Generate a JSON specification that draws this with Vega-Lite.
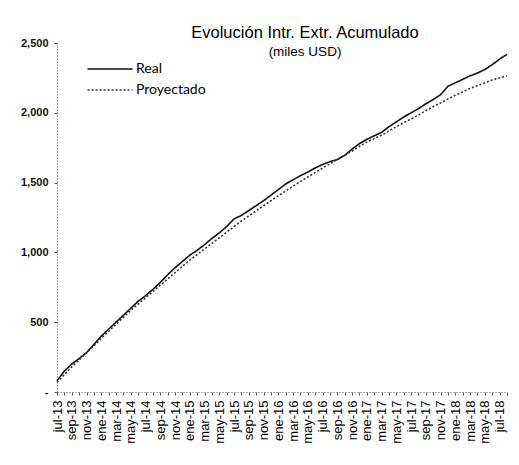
{
  "$schema": "https://vega.github.io/schema/vega-lite/v6.json",
  "width": 450,
  "height": 349,
  "autosize": {"type": "none"},
  "padding": {"left": 57, "top": 43, "right": 12, "bottom": 73},
  "background": "white",
  "config": {"view": {"stroke": null}, "font": "Liberation Sans"},
  "title": {
    "text": "Evolución Intr. Extr. Acumulado",
    "subtitle": "(miles USD)",
    "anchor": "middle",
    "dx": 23,
    "offset": -21,
    "fontSize": 16.5,
    "fontWeight": "normal",
    "font": "Liberation Sans",
    "color": "#000",
    "subtitleFontSize": 13.5,
    "subtitleFont": "Liberation Sans",
    "subtitleColor": "#000",
    "subtitlePadding": 3
  },
  "data": {
    "values": [
      {"mes": "jul-13", "Real": 80, "Proyectado": 70},
      {"mes": "ago-13", "Real": 150, "Proyectado": 125},
      {"mes": "sep-13", "Real": 200, "Proyectado": 180},
      {"mes": "oct-13", "Real": 240, "Proyectado": 230},
      {"mes": "nov-13", "Real": 282, "Proyectado": 280},
      {"mes": "dic-13", "Real": 340, "Proyectado": 330},
      {"mes": "ene-14", "Real": 400, "Proyectado": 385},
      {"mes": "feb-14", "Real": 450, "Proyectado": 435},
      {"mes": "mar-14", "Real": 500, "Proyectado": 485},
      {"mes": "abr-14", "Real": 550, "Proyectado": 535},
      {"mes": "may-14", "Real": 600, "Proyectado": 585},
      {"mes": "jun-14", "Real": 650, "Proyectado": 630},
      {"mes": "jul-14", "Real": 690, "Proyectado": 675},
      {"mes": "ago-14", "Real": 735, "Proyectado": 720},
      {"mes": "sep-14", "Real": 785, "Proyectado": 765},
      {"mes": "oct-14", "Real": 840, "Proyectado": 810},
      {"mes": "nov-14", "Real": 890, "Proyectado": 855},
      {"mes": "dic-14", "Real": 935, "Proyectado": 900},
      {"mes": "ene-15", "Real": 980, "Proyectado": 945},
      {"mes": "feb-15", "Real": 1015, "Proyectado": 985},
      {"mes": "mar-15", "Real": 1055, "Proyectado": 1025},
      {"mes": "abr-15", "Real": 1100, "Proyectado": 1065},
      {"mes": "may-15", "Real": 1140, "Proyectado": 1105},
      {"mes": "jun-15", "Real": 1185, "Proyectado": 1145},
      {"mes": "jul-15", "Real": 1240, "Proyectado": 1185},
      {"mes": "ago-15", "Real": 1265, "Proyectado": 1225},
      {"mes": "sep-15", "Real": 1300, "Proyectado": 1262},
      {"mes": "oct-15", "Real": 1335, "Proyectado": 1298},
      {"mes": "nov-15", "Real": 1370, "Proyectado": 1334},
      {"mes": "dic-15", "Real": 1410, "Proyectado": 1370},
      {"mes": "ene-16", "Real": 1450, "Proyectado": 1405},
      {"mes": "feb-16", "Real": 1490, "Proyectado": 1440},
      {"mes": "mar-16", "Real": 1520, "Proyectado": 1475},
      {"mes": "abr-16", "Real": 1550, "Proyectado": 1508},
      {"mes": "may-16", "Real": 1575, "Proyectado": 1540},
      {"mes": "jun-16", "Real": 1605, "Proyectado": 1572},
      {"mes": "jul-16", "Real": 1630, "Proyectado": 1604},
      {"mes": "ago-16", "Real": 1650, "Proyectado": 1635},
      {"mes": "sep-16", "Real": 1665, "Proyectado": 1666},
      {"mes": "oct-16", "Real": 1695, "Proyectado": 1696},
      {"mes": "nov-16", "Real": 1740, "Proyectado": 1726},
      {"mes": "dic-16", "Real": 1780, "Proyectado": 1760},
      {"mes": "ene-17", "Real": 1810, "Proyectado": 1790},
      {"mes": "feb-17", "Real": 1835, "Proyectado": 1815},
      {"mes": "mar-17", "Real": 1860, "Proyectado": 1840},
      {"mes": "abr-17", "Real": 1900, "Proyectado": 1870},
      {"mes": "may-17", "Real": 1935, "Proyectado": 1900},
      {"mes": "jun-17", "Real": 1970, "Proyectado": 1930},
      {"mes": "jul-17", "Real": 2000, "Proyectado": 1955},
      {"mes": "ago-17", "Real": 2030, "Proyectado": 1985},
      {"mes": "sep-17", "Real": 2065, "Proyectado": 2015},
      {"mes": "oct-17", "Real": 2095, "Proyectado": 2045},
      {"mes": "nov-17", "Real": 2130, "Proyectado": 2070},
      {"mes": "dic-17", "Real": 2190, "Proyectado": 2100},
      {"mes": "ene-18", "Real": 2215, "Proyectado": 2125},
      {"mes": "feb-18", "Real": 2240, "Proyectado": 2150},
      {"mes": "mar-18", "Real": 2265, "Proyectado": 2175},
      {"mes": "abr-18", "Real": 2285, "Proyectado": 2195},
      {"mes": "may-18", "Real": 2310, "Proyectado": 2215},
      {"mes": "jun-18", "Real": 2345, "Proyectado": 2235},
      {"mes": "jul-18", "Real": 2385, "Proyectado": 2250},
      {"mes": "ago-18", "Real": 2418, "Proyectado": 2265}
    ]
  },
  "transform": [{"fold": ["Real", "Proyectado"], "as": ["serie", "valor"]}],
  "mark": {"type": "line", "strokeWidth": 1.6},
  "encoding": {
    "x": {
      "field": "mes",
      "type": "ordinal",
      "sort": null,
      "scale": {"type": "point", "padding": 0},
      "axis": {
        "title": null,
        "labelAngle": -90,
        "labelAlign": "right",
        "labelBaseline": "middle",
        "labelOverlap": false,
        "labelExpr": "test(/^(jul|sep|nov|ene|mar|may)/, datum.value) ? datum.value : ''",
        "labelFont": "Liberation Sans",
        "labelFontSize": 13,
        "labelColor": "#000",
        "labelPadding": 5,
        "domainColor": "#555",
        "domainDash": [1, 2],
        "domainWidth": 1,
        "tickColor": "#555",
        "tickSize": 3,
        "tickWidth": 1,
        "grid": false
      }
    },
    "y": {
      "field": "valor",
      "type": "quantitative",
      "scale": {"domain": [0, 2500], "nice": false},
      "axis": {
        "title": null,
        "values": [0, 500, 1000, 1500, 2000, 2500],
        "labelExpr": "datum.value == 0 ? '-' : format(datum.value, ',')",
        "labelFont": "Liberation Sans",
        "labelFontSize": 11,
        "labelFontWeight": "bold",
        "labelColor": "#111",
        "labelPadding": 6,
        "domainColor": "#555",
        "domainDash": [1, 2],
        "domainWidth": 1,
        "tickColor": "#555",
        "tickSize": 3,
        "grid": false
      }
    },
    "color": {
      "field": "serie",
      "type": "nominal",
      "scale": {"domain": ["Real", "Proyectado"], "range": ["#111111", "#333333"]},
      "legend": {
        "title": null,
        "orient": "none",
        "legendX": 42,
        "legendY": 15,
        "symbolType": "M-2.25,0H2.25",
        "symbolSize": 400,
        "symbolStrokeWidth": 1.5,
        "labelFont": "Lato",
        "labelFontSize": 14,
        "labelColor": "#000",
        "rowPadding": 3,
        "labelOffset": 15
      }
    },
    "strokeDash": {
      "field": "serie",
      "type": "nominal",
      "scale": {"domain": ["Real", "Proyectado"], "range": [[1, 0], [2, 2]]},
      "legend": null
    }
  }
}
